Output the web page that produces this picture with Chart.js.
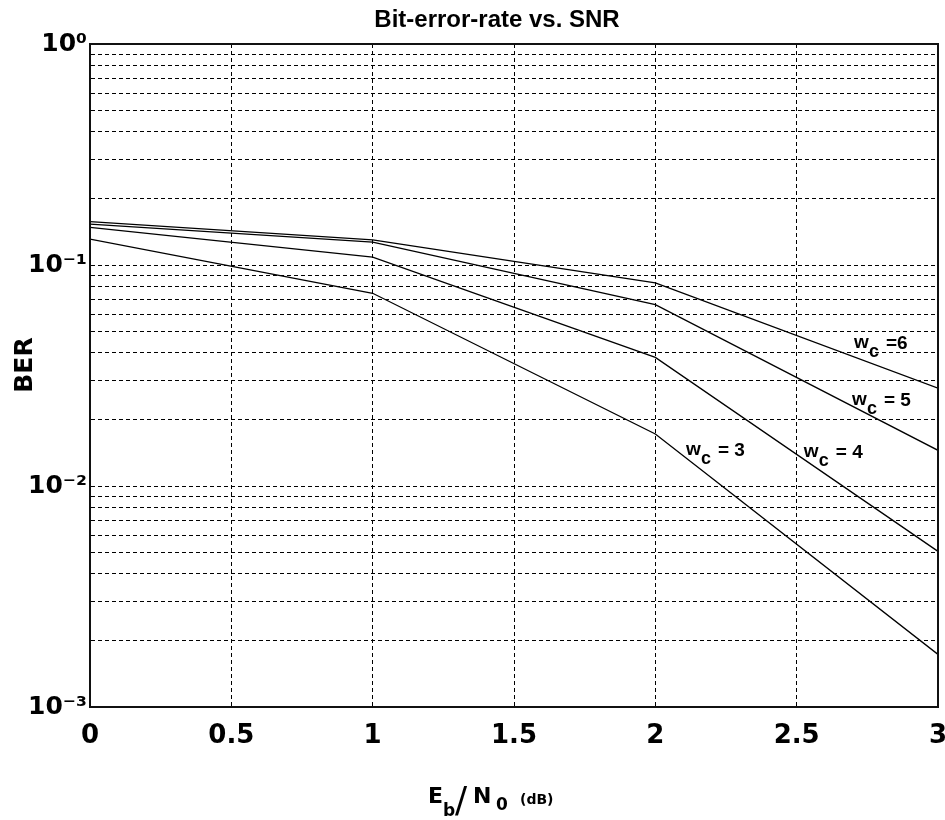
<!DOCTYPE html>
<html><head><meta charset="utf-8">
<script src="https://cdn.jsdelivr.net/npm/chart.js@4.4.1/dist/chart.umd.min.js"></script>
<style>html,body{margin:0;padding:0;background:#fff;} #wrap{width:945px;height:820px;}</style>
</head><body><div id="wrap"><canvas id="c" width="945" height="820"></canvas></div>
<script>
// ---- data ----
const ebN0 = [0, 1, 2, 3];
const berWc3 = [0.131, 0.0745, 0.0172, 0.00173];
const berWc4 = [0.148, 0.1085, 0.0382, 0.00506];
const berWc5 = [0.153, 0.127, 0.0662, 0.0145];
const berWc6 = [0.157, 0.130, 0.0830, 0.0277];
const wcValues = ['3', '4', '5', '6'];
const xTickValues = [0, 0.5, 1, 1.5, 2, 2.5, 3];
const xTickLabels = ['0', '0.5', '1', '1.5', '2', '2.5', '3'];
const yDecades = [0.001, 0.01, 0.1, 1];
const yDecadeLabels = ['10⁻³', '10⁻²', '10⁻¹', '10⁰'];
const yMantissas = [1, 2, 3, 4, 5, 6, 7, 8, 9];
// label anchors (data coordinates) and their text tails
const wcLabelX = [2.112, 2.529, 2.699, 2.706];
const wcLabelY = [0.0138, 0.01352, 0.02325, 0.0421];
const wcLabelTail = ['= 3', '= 4', '= 5', '=6'];

const titleText = 'Bit-error-rate vs. SNR';
const yTitleText = 'BER';

const seriesList = [berWc3, berWc4, berWc5, berWc6];

const yGridValues = [];
yDecades.forEach((d, i) => {
  if (i < yDecades.length - 1) yMantissas.forEach(m => yGridValues.push(+(m * d).toPrecision(3)));
  else yGridValues.push(d);
});

const datasets = seriesList.map((s, i) => ({
  label: 'w_c = ' + wcValues[i],
  data: ebN0.map((x, j) => ({x: x, y: s[j]})),
  borderColor: '#000',
  borderWidth: 1.3,
  pointRadius: 0,
  fill: false,
  tension: 0
}));

const decorPlugin = {
  id: 'decor',
  afterDraw(chart) {
    const ctx = chart.ctx;
    const a = chart.chartArea;
    const xs = chart.scales.x, ys = chart.scales.y;
    ctx.save();
    // frame
    ctx.strokeStyle = '#111';
    ctx.lineWidth = 2;
    ctx.setLineDash([]);
    ctx.strokeRect(a.left, a.top, a.right - a.left, a.bottom - a.top);
    ctx.fillStyle = '#000';
    // title
    ctx.font = 'bold 24px "Liberation Sans"';
    ctx.textAlign = 'center';
    ctx.textBaseline = 'alphabetic';
    ctx.fillText(titleText, 497, 27);
    // y title
    ctx.save();
    ctx.translate(25, 365);
    ctx.rotate(-Math.PI / 2);
    ctx.font = 'bold 25px "DejaVu Sans"';
    ctx.textAlign = 'center';
    ctx.textBaseline = 'middle';
    ctx.fillText(yTitleText, 0, 0);
    ctx.restore();
    // x title  E_b / N_0 (dB)
    ctx.textAlign = 'left';
    ctx.font = 'bold 22px "DejaVu Sans"';
    ctx.fillText('E', 428, 803);
    ctx.font = 'bold 17px "DejaVu Sans"';
    ctx.fillText('b', 443, 816);
    ctx.font = '36px "DejaVu Sans"';
    ctx.fillText('/', 455, 812);
    ctx.font = 'bold 22px "DejaVu Sans"';
    ctx.fillText('N', 473, 803);
    ctx.font = 'bold 17px "DejaVu Sans"';
    ctx.fillText('0', 496, 810);
    ctx.font = 'bold 14px "DejaVu Sans"';
    ctx.fillText('(dB)', 520, 804);
    // curve labels
    for (let i = 0; i < wcValues.length; i++) {
      const px = xs.getPixelForValue(wcLabelX[i]);
      const py = ys.getPixelForValue(wcLabelY[i]);
      ctx.font = 'bold 19px "Liberation Sans"';
      ctx.fillText('w', px - 1, py);
      ctx.font = 'bold 18px "Liberation Sans"';
      ctx.fillText('c', px + 14, py + 9);
      ctx.font = 'bold 19px "Liberation Sans"';
      ctx.fillText(wcLabelTail[i], px + 31, py + 1);
    }
    ctx.restore();
  }
};

new Chart(document.getElementById('c'), {
  type: 'line',
  data: {datasets: datasets},
  options: {
    responsive: false,
    animation: false,
    devicePixelRatio: 1,
    layout: {padding: {top: 44, right: 7, left: 0, bottom: 0}},
    plugins: {legend: {display: false}, title: {display: false}, tooltip: {enabled: false}},
    scales: {
      x: {
        type: 'linear', min: 0, max: 3,
        afterBuildTicks(scale) { scale.ticks = xTickValues.map(v => ({value: v})); },
        afterFit(scale) { scale.height = 113; scale.paddingLeft = 0; scale.paddingRight = 0; },
        ticks: {
          autoSkip: false, maxRotation: 0, padding: 14, color: '#000',
          font: {family: 'DejaVu Sans', size: 26, weight: 'bold'},
          callback(v) { const k = xTickValues.indexOf(v); return k >= 0 ? xTickLabels[k] : ''; }
        },
        grid: {color: '#000', lineWidth: 1, drawTicks: false},
        border: {display: true, color: '#000', width: 2, dash: [4, 3]}
      },
      y: {
        type: 'logarithmic', min: 0.001, max: 1,
        afterBuildTicks(scale) { scale.ticks = yGridValues.map(v => ({value: v})); },
        afterFit(scale) { scale.width = 90; scale.paddingTop = 0; scale.paddingBottom = 0; },
        ticks: {
          autoSkip: false, padding: 3, color: '#000',
          font: {family: 'DejaVu Sans', size: 25, weight: 'bold'},
          callback(v) {
            for (let i = 0; i < yDecades.length; i++) {
              if (Math.abs(v - yDecades[i]) < yDecades[i] * 1e-6) return yDecadeLabels[i];
            }
            return '';
          }
        },
        grid: {color: '#000', lineWidth: 1, drawTicks: false},
        border: {display: true, color: '#000', width: 2, dash: [4, 3]}
      }
    }
  },
  plugins: [decorPlugin]
});
</script>
</body></html>
